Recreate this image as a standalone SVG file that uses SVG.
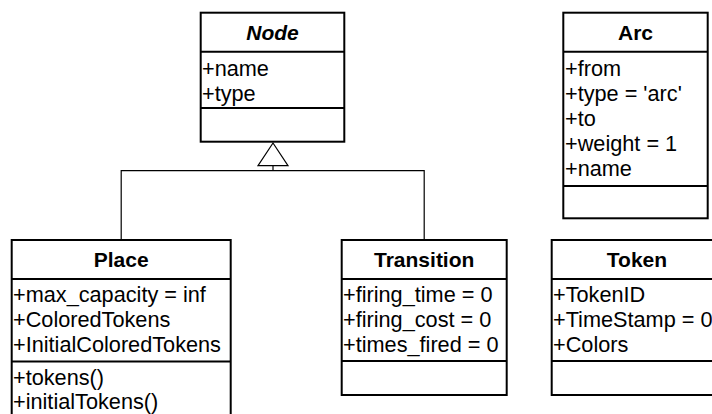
<svg xmlns="http://www.w3.org/2000/svg" width="712" height="414" viewBox="0 0 712 414">
  <style>
    .box { fill: #ffffff; stroke: #000000; stroke-width: 2; }
    .sep { stroke: #000000; stroke-width: 2; }
    .title { font-family: "Liberation Sans", Arial, sans-serif; font-size: 21px; font-weight: bold; text-anchor: middle; fill: #000000; }
    .abstract { font-style: italic; }
    .member { font-family: "Liberation Sans", Arial, sans-serif; font-size: 21.7px; fill: #000000; }
    .link { fill: none; stroke: #000000; stroke-width: 1.2; }
  </style>
  <rect width="712" height="414" fill="#ffffff"/>

  <!-- inheritance connectors -->
  <g id="connectors">
    <polyline class="link" points="121.2,240 121.2,170.7 424.2,170.7 424.2,240"/>
    <line class="link" x1="273" y1="170.7" x2="273" y2="165.7"/>
    <polygon class="link" points="273,143 258,165.7 288,165.7" fill="#ffffff"/>
  </g>

  <!-- Node (abstract) -->
  <g id="node-Node">
    <rect class="box" x="200.7" y="12.7" width="143.6" height="129"/>
    <line class="sep" x1="200.7" y1="51.7" x2="344.3" y2="51.7"/>
    <line class="sep" x1="200.7" y1="108" x2="344.3" y2="108"/>
    <text class="title abstract" x="272.5" y="39.5">Node</text>
    <text class="member" x="202" y="75.8">+name</text>
    <text class="member" x="202" y="100.8">+type</text>
  </g>

  <!-- Arc -->
  <g id="node-Arc">
    <rect class="box" x="563.3" y="12.7" width="144.4" height="205.6"/>
    <line class="sep" x1="563.3" y1="51.7" x2="707.7" y2="51.7"/>
    <line class="sep" x1="563.3" y1="186" x2="707.7" y2="186"/>
    <text class="title" x="635.5" y="39.5">Arc</text>
    <text class="member" x="565" y="75.8">+from</text>
    <text class="member" x="565" y="100.8">+type = 'arc'</text>
    <text class="member" x="565" y="125.8">+to</text>
    <text class="member" x="565" y="150.8">+weight = 1</text>
    <text class="member" x="565" y="175.8">+name</text>
  </g>

  <!-- Place -->
  <g id="node-Place">
    <rect class="box" x="11.7" y="240" width="219" height="190"/>
    <line class="sep" x1="11.7" y1="279" x2="230.7" y2="279"/>
    <line class="sep" x1="11.7" y1="361.5" x2="230.7" y2="361.5"/>
    <text class="title" x="121.2" y="266.8">Place</text>
    <text class="member" x="13" y="301.8">+max_capacity = inf</text>
    <text class="member" x="13" y="326.8">+ColoredTokens</text>
    <text class="member" x="13" y="351.8">+InitialColoredTokens</text>
    <text class="member" x="13" y="385.3">+tokens()</text>
    <text class="member" x="13" y="409.3">+initialTokens()</text>
  </g>

  <!-- Transition -->
  <g id="node-Transition">
    <rect class="box" x="341.7" y="240" width="165" height="155"/>
    <line class="sep" x1="341.7" y1="279" x2="506.7" y2="279"/>
    <line class="sep" x1="341.7" y1="361" x2="506.7" y2="361"/>
    <text class="title" x="424.2" y="266.8">Transition</text>
    <text class="member" x="343" y="301.8">+firing_time = 0</text>
    <text class="member" x="343" y="326.8">+firing_cost = 0</text>
    <text class="member" x="343" y="351.8">+times_fired = 0</text>
  </g>

  <!-- Token -->
  <g id="node-Token">
    <rect class="box" x="551.7" y="240" width="170" height="155"/>
    <line class="sep" x1="551.7" y1="279" x2="721.7" y2="279"/>
    <line class="sep" x1="551.7" y1="361" x2="721.7" y2="361"/>
    <text class="title" x="637" y="266.8">Token</text>
    <text class="member" x="553" y="301.8">+TokenID</text>
    <text class="member" x="553" y="326.8">+TimeStamp = 0</text>
    <text class="member" x="553" y="351.8">+Colors</text>
  </g>
</svg>
